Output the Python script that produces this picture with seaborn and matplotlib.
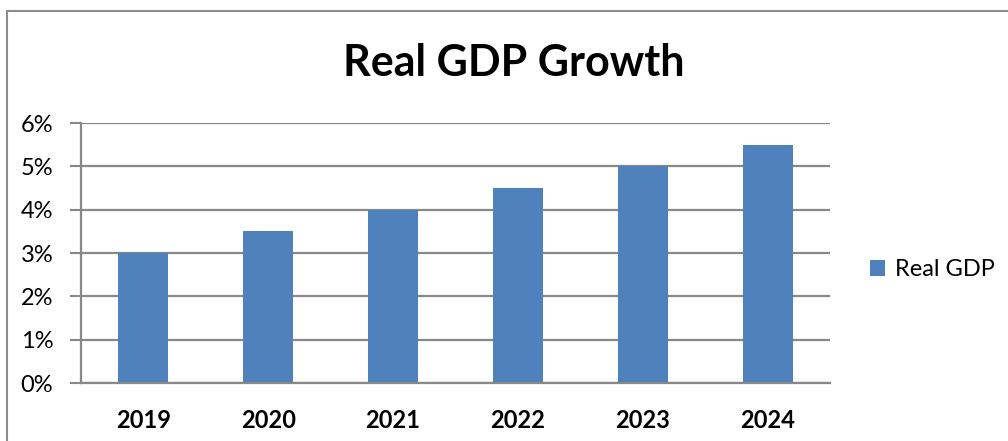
import matplotlib
matplotlib.use("Agg")
import matplotlib.pyplot as plt
import seaborn as sns
import pandas as pd
from matplotlib.patches import Rectangle
from matplotlib.ticker import FixedLocator

years = ["2019", "2020", "2021", "2022", "2023", "2024"]
gdp_growth = [3.0, 3.5, 4.0, 4.5, 5.0, 5.5]
y_ticks = [0, 1, 2, 3, 4, 5, 6]
y_tick_labels = ["0%", "1%", "2%", "3%", "4%", "5%", "6%"]
series_name = "Real GDP"
title = "Real GDP Growth"

sns.set_theme(style="white")
plt.rcParams["font.family"] = ["Lato", "DejaVu Sans"]
plt.rcParams["text.color"] = "black"

df = pd.DataFrame({"year": years, "value": gdp_growth, "series": series_name})

fig = plt.figure(figsize=(10.08, 4.41), dpi=100)
ax = fig.add_axes([81/1008, 1-383/441, (830-81)/1008, (383-123)/441])

grid_c = "#888888"
bar_c = "#4F81BD"

sns.barplot(data=df, x="year", y="value", hue="series", palette=[bar_c],
            width=0.4, ax=ax, saturation=1, zorder=3, legend=True, linewidth=0)

ax.set_ylim(0, 6)
ax.set_xlim(-0.5, len(years) - 0.5)
ax.set_yticks(y_ticks)
ax.set_yticklabels(y_tick_labels, fontsize=17, color="black")
ax.set_xticks(range(len(years)))
ax.set_xticklabels(years, fontsize=17, fontweight="bold", color="black")
ax.xaxis.set_minor_locator(FixedLocator([i - 0.5 for i in range(len(years) + 1)]))
ax.tick_params(axis="x", which="major", length=0, pad=19)
ax.tick_params(axis="x", which="minor", length=8, width=1.5, color=grid_c, direction="out")
ax.tick_params(axis="y", which="major", length=8, width=1.5, color=grid_c, direction="out", pad=12, left=True)
ax.set_xlabel("")
ax.set_ylabel("")
ax.grid(axis="y", color=grid_c, linewidth=1.6, zorder=0)
ax.set_axisbelow(True)
for s in ["top", "right"]:
    ax.spines[s].set_visible(False)
for s in ["left", "bottom"]:
    ax.spines[s].set_color(grid_c)
    ax.spines[s].set_linewidth(1.6)
    ax.spines[s].set_zorder(4)

handles, labels = ax.get_legend_handles_labels()
ax.legend_.remove()
fig.legend(handles, labels, loc="center left", bbox_to_anchor=(863/1008, 1-270/441),
           frameon=False, fontsize=17, handlelength=0.65, handleheight=0.65,
           handletextpad=0.4, labelcolor="black", borderaxespad=0, borderpad=0.3)

fig.suptitle(title, x=514/1008, y=1-63/441, va="center", fontsize=31,
             fontweight="bold", color="black")

fig.patches.append(Rectangle((7/1008, -0.05), 2, 1.05 - 11/441,
                             transform=fig.transFigure, fill=False,
                             edgecolor="#8c8c8c", linewidth=1.5))

fig.savefig("out.png", dpi=100)
